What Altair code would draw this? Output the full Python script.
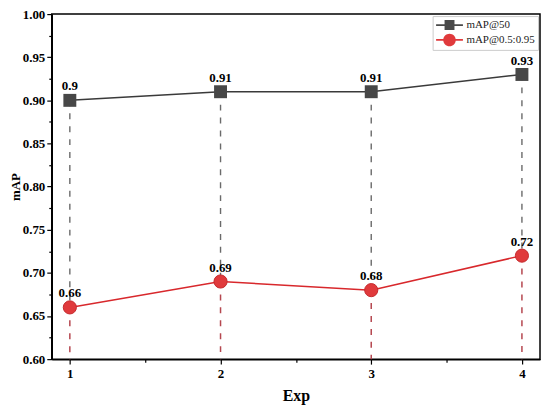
import altair as alt
import pandas as pd

exps = [1, 2, 3, 4]
map50 = [0.90, 0.91, 0.91, 0.93]
map5095 = [0.66, 0.69, 0.68, 0.72]
lab50 = ["0.9", "0.91", "0.91", "0.93"]
lab5095 = ["0.66", "0.69", "0.68", "0.72"]
series_names = ["mAP@50", "mAP@0.5:0.95"]

y_major = [0.60, 0.65, 0.70, 0.75, 0.80, 0.85, 0.90, 0.95, 1.00]
y_minor = [0.625, 0.675, 0.725, 0.775, 0.825, 0.875, 0.925, 0.975]
x_major = [1, 2, 3, 4]
x_minor = [1.5, 2.5, 3.5]

df = pd.DataFrame({"exp": exps, "m50": map50, "m95": map5095,
                   "l50": lab50, "l95": lab5095, "base": [0.60] * 4})
df_long = pd.DataFrame({
    "exp": exps * 2,
    "val": map50 + map5095,
    "series": [series_names[0]] * 4 + [series_names[1]] * 4,
})

FONT = "Liberation Serif"
GRAY = "#474747"
RED = "#e03a3c"
DASH_RED = "#b5474f"

xs = alt.Scale(domain=[0.88, 4.12], nice=False, zero=False)
ys = alt.Scale(domain=[0.60, 1.00], nice=False, zero=False)

main_x_axis = alt.Axis(values=x_major, title="Exp", format="d", tickSize=5,
                       labelPadding=3, titlePadding=8, titleFontSize=16)
main_y_axis = alt.Axis(values=y_major, title="mAP", format=".2f", tickSize=5,
                       labelPadding=2, titlePadding=0, orient="left", titleFontSize=13)
minor_x_axis = alt.Axis(values=x_minor, title=None, labels=False, domain=False,
                        tickSize=3, orient="bottom")
minor_y_axis = alt.Axis(values=y_minor, title=None, labels=False, domain=False,
                        tickSize=3, orient="left")

base = alt.Chart(df)

gray_dash = base.mark_rule(color="#6a6a6a", strokeDash=[6, 7], strokeWidth=1.4).encode(
    x=alt.X("exp:Q", scale=xs, axis=main_x_axis),
    y=alt.Y("m50:Q", scale=ys, axis=main_y_axis),
    y2="m95:Q",
)
red_dash = base.mark_rule(color=DASH_RED, strokeDash=[6, 7], strokeWidth=1.5).encode(
    x=alt.X("exp:Q", scale=xs, axis=minor_x_axis),
    y=alt.Y("m95:Q", scale=ys, axis=minor_y_axis),
    y2="base:Q",
)
gray_line = base.mark_line(color="#3a3a3a", strokeWidth=1.5).encode(
    x=alt.X("exp:Q", scale=xs, axis=None),
    y=alt.Y("m50:Q", scale=ys, axis=None),
)
red_line = base.mark_line(color="#d8282c", strokeWidth=1.5).encode(
    x=alt.X("exp:Q", scale=xs, axis=None),
    y=alt.Y("m95:Q", scale=ys, axis=None),
)
gray_pts = base.mark_point(shape="square", filled=True, size=169, color=GRAY, opacity=1).encode(
    x=alt.X("exp:Q", scale=xs, axis=None),
    y=alt.Y("m50:Q", scale=ys, axis=None),
)
red_pts = base.mark_point(shape="circle", filled=True, size=175, fill=RED, stroke="#c52a2d",
                          strokeWidth=1, opacity=1).encode(
    x=alt.X("exp:Q", scale=xs, axis=None),
    y=alt.Y("m95:Q", scale=ys, axis=None),
)
txt_kw = dict(font=FONT, fontWeight="bold", fontSize=13, color="black")
gray_txt = base.mark_text(dy=-14, **txt_kw).encode(
    x=alt.X("exp:Q", scale=xs, axis=None),
    y=alt.Y("m50:Q", scale=ys, axis=None),
    text="l50:N",
)
red_txt = base.mark_text(dy=-14, **txt_kw).encode(
    x=alt.X("exp:Q", scale=xs, axis=None),
    y=alt.Y("m95:Q", scale=ys, axis=None),
    text="l95:N",
)

sq_path = ("M-2.25,-0.15L2.25,-0.15L2.25,0.15L-2.25,0.15Z "
           "M-0.83,-0.83L0.83,-0.83L0.83,0.83L-0.83,0.83Z")
ci_path = ("M-2.25,-0.15L2.25,-0.15L2.25,0.15L-2.25,0.15Z "
           "M1.05,0A1.05,1.05 0 1,1 -1.05,0A1.05,1.05 0 1,1 1.05,0Z")

legend_layer = alt.Chart(df_long).mark_point(filled=True, opacity=0, size=10).encode(
    x=alt.X("exp:Q", scale=xs, axis=None),
    y=alt.Y("val:Q", scale=ys, axis=None),
    shape=alt.Shape("series:N", scale=alt.Scale(domain=series_names, range=[sq_path, ci_path]),
                    legend=alt.Legend(title=None, orient="top-right", offset=2,
                                      symbolSize=144, symbolOpacity=1,
                                      strokeColor="#cccccc", fillColor="white",
                                      padding=3, rowPadding=3, labelFont=FONT,
                                      labelFontSize=11, labelColor="#222222",
                                      symbolOffset=8, labelOffset=11,
                                      symbolStrokeWidth=0)),
    color=alt.Color("series:N", scale=alt.Scale(domain=series_names, range=["#4a4a4a", RED])),
)

chart = alt.layer(
    gray_dash, red_dash, gray_line, red_line, gray_pts, red_pts, gray_txt, red_txt, legend_layer
).resolve_axis(x="independent", y="independent").properties(
    width=491, height=347,
    autosize=alt.AutoSizeParams(type="none"),
    padding={"left": 44, "top": 5, "right": 2, "bottom": 48},
    background="white",
).configure_view(stroke="black", strokeWidth=1.5).configure_axis(
    grid=False, labelFont=FONT, labelFontWeight="bold", labelFontSize=13, labelColor="black",
    titleFont=FONT, titleFontWeight="bold", titleColor="black",
    domainColor="black", domainWidth=1.5, tickColor="black", tickWidth=1.2,
)

chart.save("out.html", embed_options={"renderer": "svg", "actions": False})
